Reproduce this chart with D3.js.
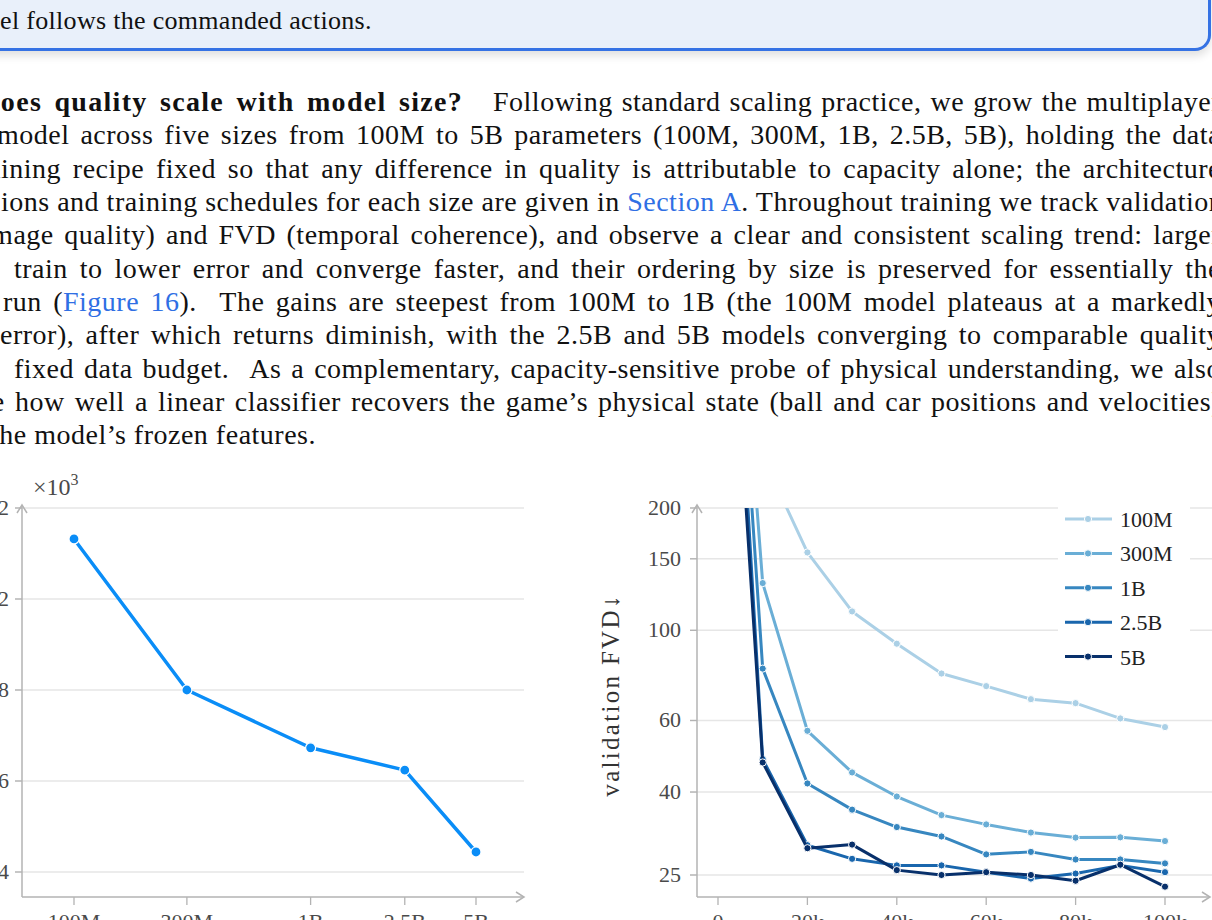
<!DOCTYPE html>
<meta charset="utf-8">
<style>
body {
  margin: 0;
  width: 1212px;
  height: 920px;
  overflow: hidden;
  position: relative;
  background: #fff;
  font-family: "Liberation Serif", serif;
  color: #111;
}
.box {
  position: absolute;
  left: -40px; top: -40px;
  width: 1248px; height: 88px;
  background: #e9f0fa;
  border-bottom: 3px solid #3572e4;
  border-right: 3px solid #3572e4;
  border-bottom-right-radius: 16px;
  box-shadow: 0 5px 8px rgba(0,0,0,0.12);
}
.line {
  position: absolute;
  font-size: 28px;
  line-height: 28px;
  letter-spacing: 0.5px;
  white-space: nowrap;
  text-align: justify;
  text-align-last: justify;
}
.line.last { text-align: left; text-align-last: left; }
.line.small { font-size: 26px; letter-spacing: 0.3px; }
.line b { letter-spacing: 1.3px; }
.link { color: #2f6fe4; }
svg { position: absolute; left: 0; top: 0; }
</style>
<body>
<div class="box"></div>
<div id="text"></div>
<svg id="chart" width="1212" height="920"></svg>
<script src="https://cdn.jsdelivr.net/npm/d3@7"></script>
<script>
// paragraph lines as they appear (left x, right x, baseline y, class, html)
var textLines = [
  [-47, 420, 30, "last small", "model follows the commanded actions."],
  [-16, 463, 111, "", "<b>does quality scale with model size?</b>"],
  [493, 1221, 111, "", "Following standard scaling practice, we grow the multiplayer"],
  [-3, 1221, 144, "", "model across five sizes from 100M to 5B parameters (100M, 300M, 1B, 2.5B, 5B), holding the data"],
  [-30, 1221, 178, "", "training recipe fixed so that any difference in quality is attributable to capacity alone; the architecture"],
  [1, 1221, 211, "", "ions and training schedules for each size are given in <span class='link'>Section A</span>. Throughout training we track validation"],
  [-27, 1221, 244, "", "(image quality) and FVD (temporal coherence), and observe a clear and consistent scaling trend: larger"],
  [14, 1221, 278, "", "train to lower error and converge faster, and their ordering by size is preserved for essentially the"],
  [3, 1221, 311, "", "run (<span class='link'>Figure 16</span>). &nbsp;The gains are steepest from 100M to 1B (the 100M model plateaus at a markedly"],
  [0, 1221, 344, "", "error), after which returns diminish, with the 2.5B and 5B models converging to comparable quality"],
  [14, 1221, 378, "", "fixed data budget. &nbsp;As a complementary, capacity-sensitive probe of physical understanding, we also"],
  [-92, 1221, 411, "", "measure how well a linear classifier recovers the game’s physical state (ball and car positions and velocities)"],
  [-9, 600, 444, "last", "the model’s frozen features."]
];

// left chart: final validation loss by model size (x10^3)
var sizeLabels = ["100M", "300M", "1B", "2.5B", "5B"];
var sizeParams = [1e8, 3e8, 1e9, 2.5e9, 5e9];
var finalLoss = [2132, 1800, 1673, 1624, 1444];
var lossTicks = [1400, 1600, 1800, 2000, 2200];
var lossTickLabels = ["1.4", "1.6", "1.8", "2", "2.2"];

// right chart: validation FVD over training steps
var steps = [0, 10000, 20000, 30000, 40000, 50000, 60000, 70000, 80000, 90000, 100000];
var fvd100M = [3500, 268, 155.5, 111.3, 92.7, 78.3, 72.9, 67.7, 66.2, 60.7, 57.8];
var fvd300M = [3600, 130.7, 56.6, 44.7, 39.0, 35.1, 33.3, 31.8, 30.9, 30.95, 30.3];
var fvd1B = [3500, 80.5, 42.0, 36.2, 32.8, 31.1, 28.1, 28.5, 27.3, 27.3, 26.7];
var fvd2p5B = [3550, 48.2, 29.6, 27.4, 26.4, 26.4, 25.4, 24.5, 25.2, 26.4, 25.4];
var fvd5B = [2300, 47.3, 29.1, 29.7, 25.7, 25.0, 25.4, 25.0, 24.2, 26.5, 23.4];
var seriesNames = ["100M", "300M", "1B", "2.5B", "5B"];
var seriesColors = ["#abd0e6", "#6aaed6", "#3787c0", "#1966ad", "#08306b"];
var fvdTicks = [25, 40, 60, 100, 150, 200];
var stepTicks = [0, 20000, 40000, 60000, 80000, 100000];
var stepTickLabels = ["0", "20k", "40k", "60k", "80k", "100k"];

// ---- text ----
var textDiv = d3.select("#text");
textLines.forEach(function(l) {
  textDiv.append("div")
    .attr("class", "line " + l[3])
    .style("left", l[0] + "px")
    .style("width", (l[1] - l[0]) + "px")
    .style("top", (l[2] - 23.4) + "px")
    .html(l[4]);
});

var svg = d3.select("#chart");
var axisColor = "#b3b3b3", gridColor = "#e6e6e6", labelColor = "#4a4a4a";
var font = "Liberation Serif";

function arrowUp(g, x, y) {
  g.append("path").attr("d", "M" + (x - 5) + "," + (y + 8) + "L" + x + "," + y + "L" + (x + 5) + "," + (y + 8))
    .attr("fill", "none").attr("stroke", axisColor).attr("stroke-width", 1.5);
}
function arrowRight(g, x, y) {
  g.append("path").attr("d", "M" + (x - 8) + "," + (y - 5) + "L" + x + "," + y + "L" + (x - 8) + "," + (y + 5))
    .attr("fill", "none").attr("stroke", axisColor).attr("stroke-width", 1.5);
}

// ---- left chart ----
var gL = svg.append("g");
var xL = d3.scaleLog().domain([1e8, 5e9]).range([74, 476]);
var yL = d3.scaleLinear().domain([1400, 2200]).range([872, 508]);
var leftAxisX = 22, bottomY = 897;

gL.selectAll(".grid").data(lossTicks).enter().append("line")
  .attr("x1", 15).attr("x2", 524)
  .attr("y1", d => yL(d)).attr("y2", d => yL(d))
  .attr("stroke", gridColor).attr("stroke-width", 1.5);
gL.selectAll(".ytick").data(lossTicks).enter().append("line")
  .attr("x1", 15).attr("x2", leftAxisX)
  .attr("y1", d => yL(d)).attr("y2", d => yL(d))
  .attr("stroke", axisColor).attr("stroke-width", 1.3);
gL.selectAll(".ylab").data(lossTicks).enter().append("text")
  .attr("x", 9).attr("y", d => yL(d) + 7)
  .attr("text-anchor", "end").attr("font-family", font).attr("font-size", 22)
  .attr("fill", labelColor)
  .text((d, i) => lossTickLabels[i]);
gL.selectAll(".xtick").data(sizeParams).enter().append("line")
  .attr("x1", d => xL(d)).attr("x2", d => xL(d))
  .attr("y1", bottomY).attr("y2", bottomY + 8)
  .attr("stroke", axisColor).attr("stroke-width", 1.3);
gL.selectAll(".xlab").data(sizeParams).enter().append("text")
  .attr("x", d => xL(d)).attr("y", 929)
  .attr("text-anchor", "middle").attr("font-family", font).attr("font-size", 22)
  .attr("fill", labelColor)
  .text((d, i) => sizeLabels[i]);
gL.append("line").attr("x1", leftAxisX).attr("x2", leftAxisX).attr("y1", bottomY).attr("y2", 505)
  .attr("stroke", axisColor).attr("stroke-width", 1.5);
arrowUp(gL, leftAxisX, 505);
gL.append("line").attr("x1", leftAxisX).attr("x2", 524).attr("y1", bottomY).attr("y2", bottomY)
  .attr("stroke", axisColor).attr("stroke-width", 1.5);
arrowRight(gL, 524, bottomY);

var mult = gL.append("text").attr("x", 33).attr("y", 495)
  .attr("font-family", font).attr("font-size", 24).attr("fill", labelColor);
mult.append("tspan").text("×10");
mult.append("tspan").attr("font-size", 16).attr("dy", -10).text("3");

var lossData = sizeParams.map((p, i) => [p, finalLoss[i]]);
gL.append("path").datum(lossData)
  .attr("d", d3.line().x(d => xL(d[0])).y(d => yL(d[1])))
  .attr("fill", "none").attr("stroke", "#0a8df7").attr("stroke-width", 3.5)
  .attr("stroke-linejoin", "round");
gL.selectAll(".pt").data(lossData).enter().append("circle")
  .attr("cx", d => xL(d[0])).attr("cy", d => yL(d[1])).attr("r", 5)
  .attr("fill", "#0a8df7").attr("stroke", "#fff").attr("stroke-width", 1.2);

// ---- right chart ----
var gR = svg.append("g");
var xR = d3.scaleLinear().domain([0, 100000]).range([718, 1165]);
var yR = d3.scaleLog().domain([25, 200]).range([875, 508]);
var rAxisX = 697;

gR.selectAll(".grid").data(fvdTicks).enter().append("line")
  .attr("x1", 690).attr("x2", 1212)
  .attr("y1", d => yR(d)).attr("y2", d => yR(d))
  .attr("stroke", gridColor).attr("stroke-width", 1.5);
gR.selectAll(".ytick").data(fvdTicks).enter().append("line")
  .attr("x1", 690).attr("x2", rAxisX)
  .attr("y1", d => yR(d)).attr("y2", d => yR(d))
  .attr("stroke", axisColor).attr("stroke-width", 1.3);
gR.selectAll(".ylab").data(fvdTicks).enter().append("text")
  .attr("x", 681).attr("y", d => yR(d) + 7)
  .attr("text-anchor", "end").attr("font-family", font).attr("font-size", 22)
  .attr("fill", labelColor)
  .text(d => d);
gR.selectAll(".xtick").data(stepTicks).enter().append("line")
  .attr("x1", d => xR(d)).attr("x2", d => xR(d))
  .attr("y1", bottomY).attr("y2", bottomY + 8)
  .attr("stroke", axisColor).attr("stroke-width", 1.3);
gR.selectAll(".xlab").data(stepTicks).enter().append("text")
  .attr("x", d => xR(d)).attr("y", 929)
  .attr("text-anchor", "middle").attr("font-family", font).attr("font-size", 22)
  .attr("fill", labelColor)
  .text((d, i) => stepTickLabels[i]);
gR.append("line").attr("x1", rAxisX).attr("x2", rAxisX).attr("y1", bottomY).attr("y2", 505)
  .attr("stroke", axisColor).attr("stroke-width", 1.5);
arrowUp(gR, rAxisX, 505);
gR.append("line").attr("x1", rAxisX).attr("x2", 1210).attr("y1", bottomY).attr("y2", bottomY)
  .attr("stroke", axisColor).attr("stroke-width", 1.5);
arrowRight(gR, 1210, bottomY);

gR.append("text")
  .attr("transform", "translate(619,695) rotate(-90)")
  .attr("text-anchor", "middle").attr("font-family", font).attr("font-size", 25)
  .attr("letter-spacing", 2.3).attr("fill", "#333")
  .text("validation FVD↓");

svg.append("clipPath").attr("id", "clipR").append("rect")
  .attr("x", rAxisX).attr("y", yR(200)).attr("width", 1212 - rAxisX).attr("height", bottomY - yR(200));

var allSeries = [fvd100M, fvd300M, fvd1B, fvd2p5B, fvd5B];
var plot = gR.append("g").attr("clip-path", "url(#clipR)");
var fvdLine = d3.line().x((d, i) => xR(steps[i])).y(d => yR(d));
allSeries.forEach(function(s, k) {
  plot.append("path").datum(s)
    .attr("d", fvdLine)
    .attr("fill", "none").attr("stroke", seriesColors[k]).attr("stroke-width", 3)
    .attr("stroke-linejoin", "round");
  plot.selectAll(".m" + k).data(s).enter().append("circle")
    .attr("cx", (d, i) => xR(steps[i])).attr("cy", d => yR(d)).attr("r", 3.6)
    .attr("fill", seriesColors[k]).attr("stroke", "#fff").attr("stroke-width", 1);
});

// legend
var leg = gR.append("g");
leg.append("rect").attr("x", 1058).attr("y", 503).attr("width", 132).attr("height", 170).attr("fill", "#fff");
seriesNames.forEach(function(n, k) {
  var y = 519 + k * 34.4;
  leg.append("line").attr("x1", 1065).attr("x2", 1112).attr("y1", y).attr("y2", y)
    .attr("stroke", seriesColors[k]).attr("stroke-width", 3);
  leg.append("circle").attr("cx", 1088).attr("cy", y).attr("r", 3.6)
    .attr("fill", seriesColors[k]).attr("stroke", "#fff").attr("stroke-width", 1);
  leg.append("text").attr("x", 1120).attr("y", y + 8)
    .attr("font-family", font).attr("font-size", 22).attr("fill", "#222")
    .text(n);
});
</script>
</body>
